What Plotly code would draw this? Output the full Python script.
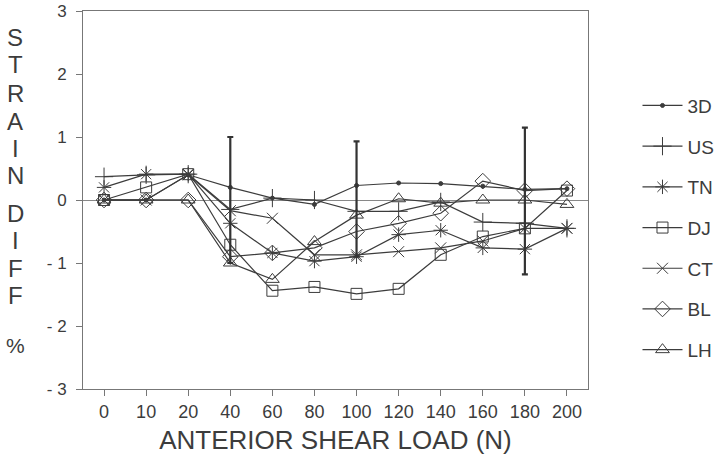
import plotly.graph_objects as go

# anterior shear load steps (N)
loads = ["0", "10", "20", "40", "60", "80", "100", "120", "140", "160", "180", "200"]

# strain difference (%) per specimen
s_3d = [0.0, 0.0, 0.40, 0.20, 0.03, -0.07, 0.23, 0.27, 0.26, 0.22, 0.17, 0.18]
s_us = [0.37, 0.40, 0.41, -0.15, 0.03, 0.0, -0.18, -0.18, -0.03, -0.35, -0.37, -0.45]
s_tn = [0.20, 0.41, 0.41, -0.37, -0.84, -0.97, -0.90, -0.55, -0.48, -0.76, -0.78, -0.45]
s_dj = [0.0, 0.20, 0.41, -0.71, -1.44, -1.38, -1.49, -1.41, -0.87, -0.58, -0.45, 0.15]
s_ct = [0.0, 0.0, 0.40, -0.17, -0.29, -0.87, -0.87, -0.82, -0.76, -0.65, -0.45, -0.45]
s_bl = [0.0, 0.0, 0.0, -0.90, -0.84, -0.76, -0.50, -0.37, -0.21, 0.30, 0.15, 0.18]
s_lh = [0.0, 0.0, 0.0, -1.00, -1.26, -0.66, -0.24, 0.02, -0.05, 0.0, 0.0, -0.07]

# spread bars drawn at three load steps
err_loads = ["40", "100", "180"]
err_mid = [0.0, 0.0, 0.0]
err_up = [1.0, 0.93, 1.15]
err_down = [1.0, 0.90, 1.18]

y_ticks = [-3, -2, -1, 0, 1, 2, 3]
y_tick_text = ["- 3", "- 2", "- 1", "0", "1", "2", "3"]

INK = "#3c3c3c"
FONT = "Liberation Sans, Arial, sans-serif"

series = [
    ("3D", s_3d, "circle", 4),
    ("US", s_us, "cross-thin-open", 13),
    ("TN", s_tn, "asterisk-open", 12),
    ("DJ", s_dj, "square-open", 11),
    ("CT", s_ct, "x-thin-open", 11),
    ("BL", s_bl, "diamond-open", 12),
    ("LH", s_lh, "triangle-up-open", 12),
]

fig = go.Figure()
for name, vals, sym, size in series:
    fig.add_trace(go.Scatter(
        x=loads, y=vals, name=name, mode="lines+markers",
        legendgroup=name,
        line=dict(color=INK, width=1.2),
        marker=dict(symbol=sym, size=size, color=INK,
                    line=dict(color=INK, width=1)),
    ))

fig.add_trace(go.Scatter(
    x=err_loads, y=err_mid, mode="markers", showlegend=False,
    marker=dict(size=1, color="rgba(0,0,0,0)"),
    error_y=dict(type="data", array=err_up, arrayminus=err_down,
                 color="#333333", thickness=2.2, width=3),
))

# vertical stacked y-axis title
letters = ["S", "T", "R", "A", "I", "N", "D", "I", "F", "F", "%"]
letter_px = [37, 64, 93, 122, 148, 175, 213, 240, 268, 295, 345]
top, bottom = 11, 75
plot_h = 464 - top - bottom
for ch, py in zip(letters, letter_px):
    fig.add_annotation(
        text=ch, xref="paper", yref="paper",
        x=(15 - 83) / 505, y=(464 - bottom - py) / plot_h,
        xanchor="center", yanchor="middle", showarrow=False,
        font=dict(family=FONT, size=24 if ch != "%" else 21, color=INK),
    )

fig.update_layout(
    width=724, height=464,
    margin=dict(l=83, r=136, t=top, b=bottom, autoexpand=False),
    paper_bgcolor="white", plot_bgcolor="white",
    font=dict(family=FONT, color=INK),
    showlegend=True,
    legend=dict(
        x=1.098, y=0.80, xanchor="left", yanchor="top",
        font=dict(size=19, color=INK),
        tracegroupgap=13, itemwidth=40,
        bgcolor="rgba(0,0,0,0)",
    ),
    xaxis=dict(
        type="category", range=[-0.5, 11.5], automargin=False,
        showline=True, linecolor="#777777", linewidth=1, mirror=True,
        ticks="outside", ticklen=6, tickcolor="#777777",
        showgrid=False, zeroline=False,
        tickfont=dict(size=18, color=INK),
        title=dict(text="ANTERIOR SHEAR LOAD (N)", standoff=10,
                   font=dict(size=26, color=INK)),
    ),
    yaxis=dict(
        range=[-3, 3], tickvals=y_ticks, ticktext=y_tick_text,
        automargin=False, ticklabeloverflow="allow",
        showline=True, linecolor="#777777", linewidth=1, mirror=True,
        ticks="outside", ticklen=6, tickcolor="#777777",
        ticklabelstandoff=6,
        showgrid=False,
        zeroline=True, zerolinecolor="#888888", zerolinewidth=1,
        tickfont=dict(size=17, color=INK),
    ),
)

# drop the default page margin so the figure sits at the window corner
fig.write_html("out.html", config={"displayModeBar": False},
               post_script="document.body.style.margin='0px';")
